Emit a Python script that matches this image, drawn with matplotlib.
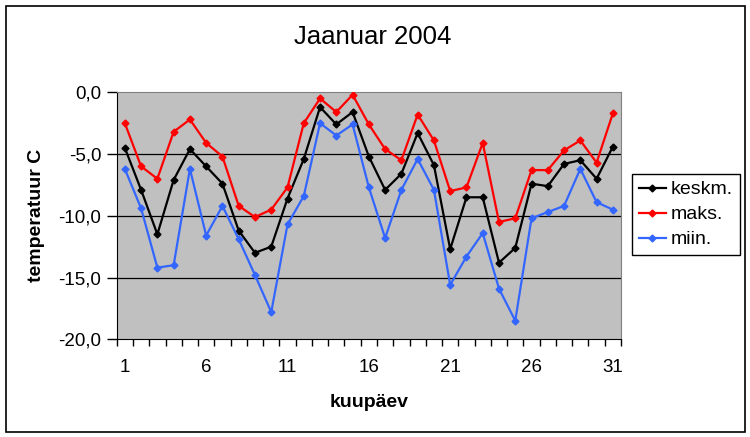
import matplotlib
matplotlib.use("Agg")
import matplotlib.pyplot as plt
from matplotlib.patches import Rectangle
from matplotlib.ticker import FixedLocator, FuncFormatter

plt.rcParams["font.family"] = ["Liberation Sans", "DejaVu Sans"]

# kuupäevad ja temperatuurid (jaanuar 2004)
days = list(range(1, 32))
keskm = [-4.5, -7.9, -11.5, -7.1, -4.6, -6.0, -7.4, -11.2, -13.0, -12.5,
         -8.6, -5.4, -1.2, -2.6, -1.6, -5.2, -7.9, -6.6, -3.3, -5.9,
         -12.7, -8.5, -8.5, -13.8, -12.6, -7.4, -7.6, -5.8, -5.5, -7.0, -4.4]
maks = [-2.5, -6.0, -7.0, -3.2, -2.2, -4.1, -5.2, -9.2, -10.1, -9.5,
        -7.7, -2.5, -0.5, -1.6, -0.2, -2.6, -4.6, -5.5, -1.8, -3.9,
        -8.0, -7.7, -4.1, -10.5, -10.2, -6.3, -6.3, -4.7, -3.9, -5.7, -1.7]
miin = [-6.2, -9.4, -14.2, -14.0, -6.2, -11.6, -9.2, -11.9, -14.8, -17.8,
        -10.7, -8.4, -2.5, -3.5, -2.6, -7.7, -11.8, -7.9, -5.4, -7.9,
        -15.6, -13.3, -11.4, -15.9, -18.5, -10.2, -9.7, -9.2, -6.2, -8.9, -9.5]
y_ticks = [0, -5, -10, -15, -20]
x_labels = [1, 6, 11, 16, 21, 26, 31]

fig = plt.figure(figsize=(7.5, 4.37), dpi=100)
fig.patches.append(Rectangle((5.5 / 750, 5.5 / 437), 739 / 750, 426 / 437,
                             transform=fig.transFigure, fill=False,
                             edgecolor="black", linewidth=1.2))

ax = fig.add_axes([0.1556, 0.2236, 0.6724, 0.5652])
ax.set_facecolor("#C0C0C0")

for vals, col, name in [(keskm, "black", "keskm."), (maks, "#FF0000", "maks."),
                        (miin, "#3366FF", "miin.")]:
    ax.plot(days, vals, color=col, linewidth=1.6, marker="D", markersize=3.5,
            label=name, zorder=3)

ax.set_xlim(0.5, 31.5)
ax.set_ylim(-20, 0)

# gridlines
for v in y_ticks[1:-1]:
    ax.axhline(v, color="black", linewidth=0.9, zorder=1)

ax.set_yticks(y_ticks)
ax.yaxis.set_major_formatter(FuncFormatter(lambda v, p: f"{v:.1f}".replace(".", ",")))
ax.tick_params(axis="y", direction="out", length=7, width=1, labelsize=13.5, pad=4)

ax.xaxis.set_major_locator(FixedLocator(x_labels))
ax.xaxis.set_minor_locator(FixedLocator([d + 0.5 for d in range(0, 32)]))
ax.tick_params(axis="x", which="major", length=0, labelsize=13.5, pad=14)
ax.tick_params(axis="x", which="minor", direction="out", length=5, width=1)

ax.spines["left"].set_color("black")
ax.spines["bottom"].set_color("black")
ax.spines["top"].set_color("#808080")
ax.spines["right"].set_color("#808080")

ax.set_xlabel("kuupäev", fontsize=14, fontweight="bold", labelpad=13)
ax.set_ylabel("temperatuur C", fontsize=14, fontweight="bold", labelpad=10)
fig.text(0.497, 1 - 37 / 437, "Jaanuar 2004", fontsize=18.5, ha="center", va="center")

leg = ax.legend(loc="upper left", bbox_to_anchor=(632 / 750, 1 - 174 / 437),
                bbox_transform=fig.transFigure, borderaxespad=0, fontsize=14,
                frameon=True, fancybox=False, edgecolor="black", framealpha=1,
                handlelength=1.4, handletextpad=0.25, labelspacing=0.38,
                borderpad=0.35)
leg.get_frame().set_linewidth(1.0)

fig.savefig("out.png", dpi=100)
